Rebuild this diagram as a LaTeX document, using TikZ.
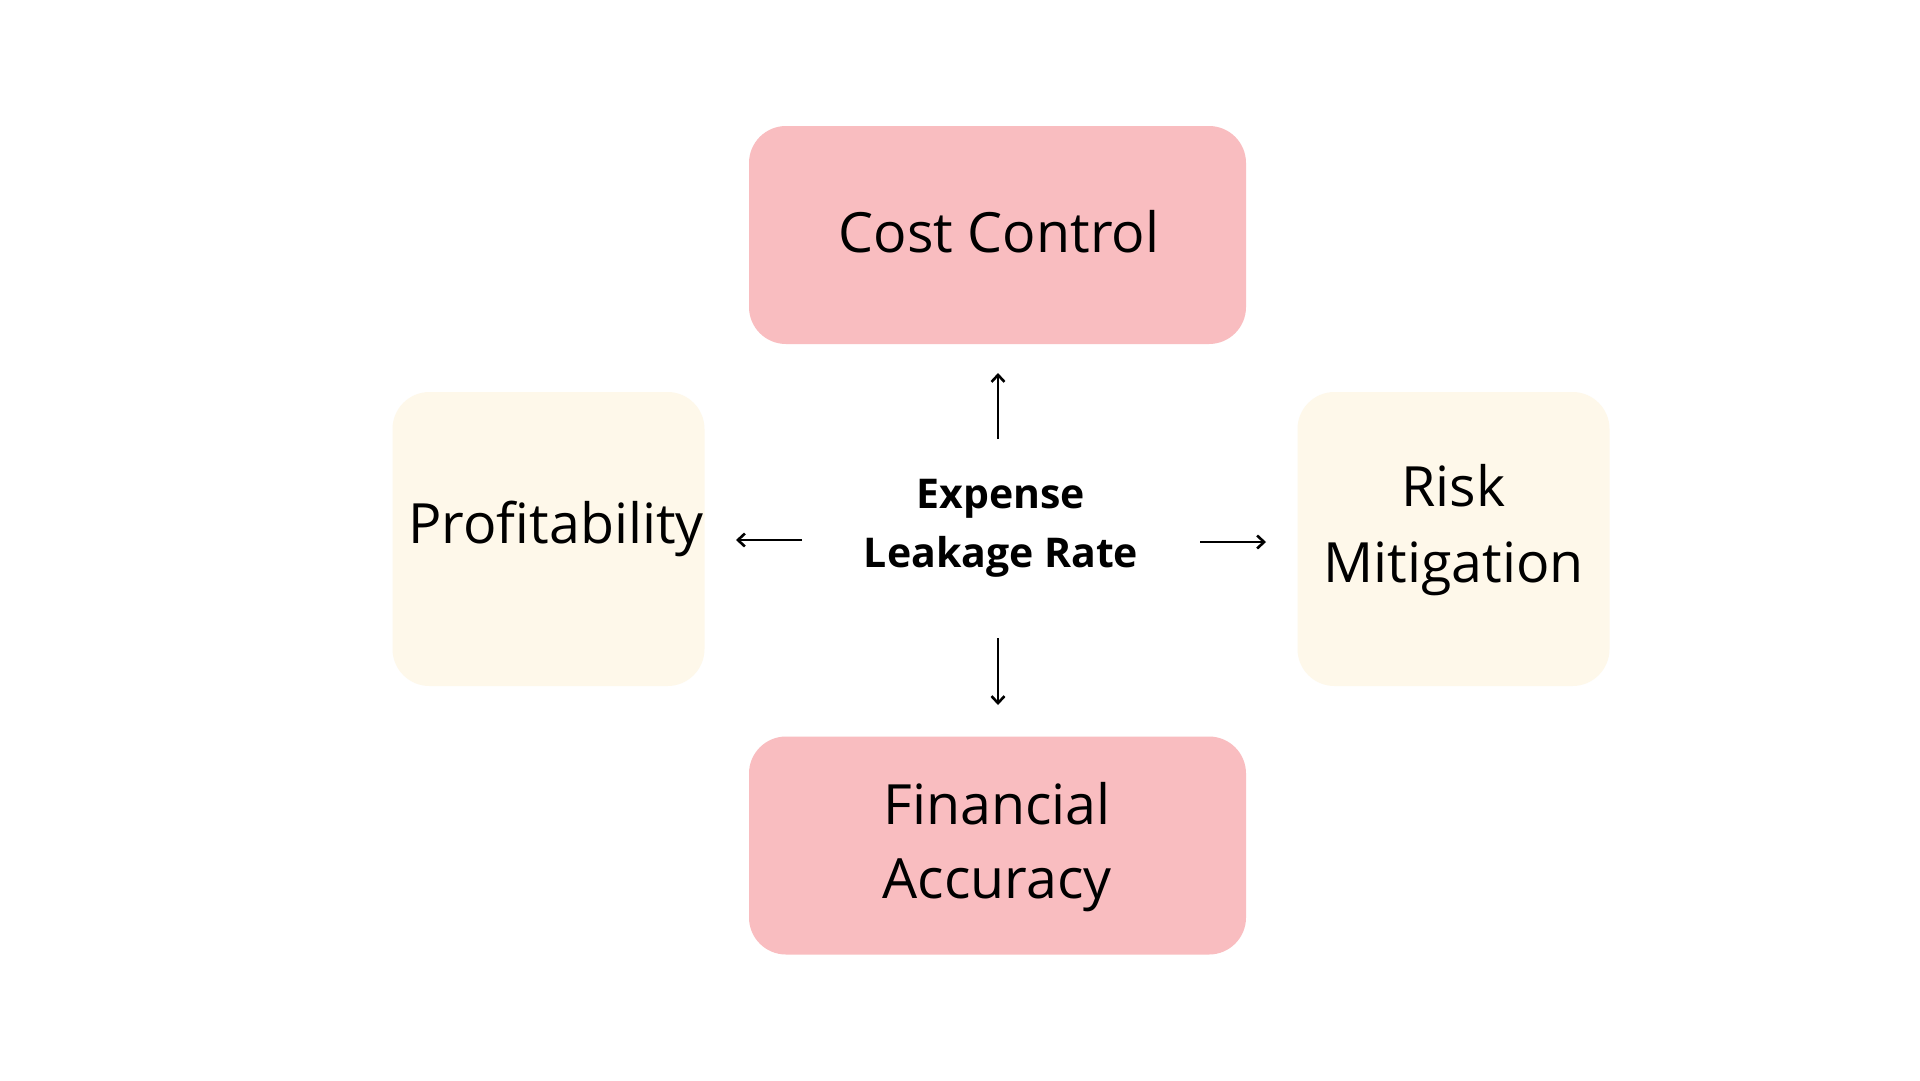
\documentclass[tikz,border=0pt]{standalone}
\usepackage{fontspec}
\setmainfont{Open Sans}
\usetikzlibrary{arrows.meta}
\definecolor{pinkbox}{HTML}{F9BDC0}
\definecolor{creambox}{HTML}{FEF8EA}
\tikzset{
  box/.style={rounded corners=37pt, inner sep=0pt, draw=none},
  pinkb/.style={box, fill=pinkbox, minimum width=497pt, minimum height=218pt},
  creamb/.style={box, fill=creambox, minimum width=312pt, minimum height=294pt},
  lbl/.style={anchor=base, inner sep=0pt, font=\fontsize{55.5}{75}\selectfont},
  ctr/.style={anchor=base, inner sep=0pt, font=\fontsize{41}{60}\selectfont\bfseries},
  arr/.style={line width=2.6pt, -{Straight Barb[length=7pt,width=13pt,line width=2.6pt]}}
}
\begin{document}
\begin{tikzpicture}[x=1pt,y=-1pt]
\useasboundingbox (0,0) rectangle (1920,1080);
\fill[white] (0,0) rectangle (1920,1080);
% boxes
\node[pinkb] (cc) at (997.5,235) {};
\node[pinkb] (fa) at (997.5,845.5) {};
\node[creamb] (pr) at (548.5,539) {};
\node[creamb] (rm) at (1453.5,539) {};
% labels
\node[lbl] (cct) at (999,252) {Cost Control};
\node[lbl] (prt) at (556,543) {Profitability};
\node[lbl] (rmt1) at (1453.5,506) {Risk};
\node[lbl] (rmt2) at (1453.5,582) {Mitigation};
\node[lbl] (fat1) at (997,824) {Financial};
\node[lbl] (fat2) at (997,898) {Accuracy};
% center
\node[ctr] (ex1) at (1001,508) {Expense};
\node[ctr] (ex2) at (1001,567) {Leakage Rate};
% arrows
\coordinate (us) at (998,439); \coordinate (ue) at (998,373);
\coordinate (ds) at (998,638); \coordinate (de) at (998,705);
\coordinate (ls) at (802,540); \coordinate (le) at (736,540);
\coordinate (rs) at (1200,542); \coordinate (re) at (1266,542);
\draw[arr] (us) -- (ue);
\draw[arr] (ds) -- (de);
\draw[arr] (ls) -- (le);
\draw[arr] (rs) -- (re);
\end{tikzpicture}
\end{document}
